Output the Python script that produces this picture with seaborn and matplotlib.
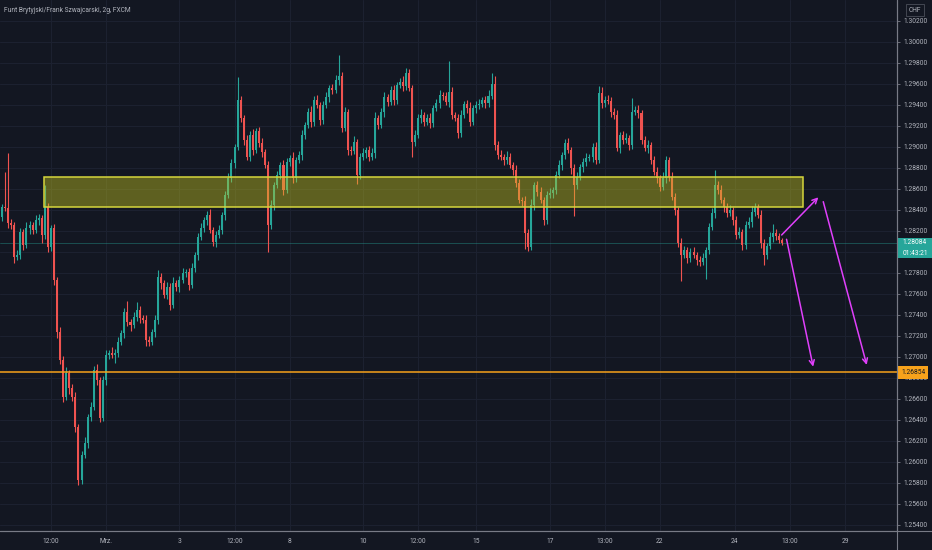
import numpy as np
import matplotlib
matplotlib.use("Agg")
import matplotlib.pyplot as plt
import matplotlib.transforms as mtransforms
from matplotlib.patches import Rectangle
from matplotlib.lines import Line2D
import seaborn as sns

# 2h candles, GBP/CHF (closes, open = previous close)
first_open = 1.28330
closes = [
    1.28427, 1.28418, 1.28274, 1.28255, 1.27949, 1.27968, 1.28190, 1.28068,
    1.28227, 1.28255, 1.28208, 1.28302, 1.28320, 1.28161, 1.28427, 1.28046,
    1.28227, 1.27730, 1.27236, 1.26968, 1.26618, 1.26847, 1.26706, 1.26618,
    1.26334, 1.25828, 1.26065, 1.26180, 1.26428, 1.26524, 1.26875, 1.26781,
    1.26418, 1.26781, 1.27018, 1.27037, 1.27018, 1.27037, 1.27143, 1.27227,
    1.27427, 1.27330, 1.27302, 1.27381, 1.27446, 1.27371, 1.27353, 1.27162,
    1.27143, 1.27236, 1.27353, 1.27762, 1.27702, 1.27590, 1.27665, 1.27493,
    1.27702, 1.27665, 1.27730, 1.27800, 1.27809, 1.27683, 1.27847, 1.27968,
    1.28143, 1.28227, 1.28302, 1.28348, 1.28208, 1.28096, 1.28161, 1.28208,
    1.28348, 1.28540, 1.28702, 1.28846, 1.28999, 1.29445, 1.29274, 1.29065,
    1.28902, 1.29111, 1.28971, 1.29149, 1.29034, 1.28949, 1.28828, 1.28255,
    1.28446, 1.28636, 1.28730, 1.28828, 1.28590, 1.28856, 1.28893, 1.28702,
    1.28874, 1.28921, 1.29111, 1.29208, 1.29330, 1.29236, 1.29445, 1.29398,
    1.29255, 1.29398, 1.29473, 1.29557, 1.29539, 1.29635, 1.29673, 1.29180,
    1.29330, 1.28971, 1.28963, 1.29046, 1.28730, 1.28902, 1.28940, 1.28971,
    1.28902, 1.28940, 1.29274, 1.29208, 1.29330, 1.29473, 1.29426, 1.29539,
    1.29445, 1.29588, 1.29616, 1.29579, 1.29701, 1.29557, 1.29046, 1.29111,
    1.29274, 1.29302, 1.29236, 1.29274, 1.29227, 1.29367, 1.29417, 1.29492,
    1.29483, 1.29426, 1.29520, 1.29302, 1.29274, 1.29130, 1.29302, 1.29408,
    1.29367, 1.29236, 1.29367, 1.29398, 1.29408, 1.29445, 1.29417, 1.29483,
    1.29598, 1.29018, 1.28921, 1.28902, 1.28874, 1.28902, 1.28828, 1.28777,
    1.28655, 1.28493, 1.28483, 1.28180, 1.28046, 1.28446, 1.28636, 1.28568,
    1.28493, 1.28302, 1.28540, 1.28558, 1.28587, 1.28730, 1.28828, 1.28921,
    1.29034, 1.28971, 1.28795, 1.28636, 1.28711, 1.28805, 1.28856, 1.28893,
    1.28902, 1.28999, 1.28874, 1.29511, 1.29417, 1.29445, 1.29439, 1.29330,
    1.29302, 1.28990, 1.29111, 1.29065, 1.29083, 1.29018, 1.29330, 1.29349,
    1.29321, 1.29065, 1.28990, 1.29018, 1.28874, 1.28758, 1.28702, 1.28618,
    1.28702, 1.28874, 1.28711, 1.28521, 1.28399, 1.28083, 1.27968, 1.28018,
    1.27940, 1.27996, 1.27968, 1.27921, 1.27903, 1.27940, 1.28018, 1.28236,
    1.28367, 1.28636, 1.28587, 1.28493, 1.28427, 1.28367, 1.28399, 1.28302,
    1.28161, 1.28190, 1.28065, 1.28255, 1.28283, 1.28380, 1.28427, 1.28348,
    1.28083, 1.27968, 1.28055, 1.28143, 1.28180, 1.28152, 1.28110, 1.28084,
]

# wick lengths in pips above / below the body
wick_up = [
    3, 33, 52, 4, 3, 5, 4, 3, 6, 4, 3, 5, 4, 3, 21, 4,
    3, 4, 3, 5, 4, 6, 3, 4, 5, 3, 4, 6, 3, 5, 4, 6,
    3, 4, 5, 3, 6, 4, 5, 3, 4, 10, 3, 5, 8, 4, 3, 5,
    4, 3, 5, 6, 4, 3, 5, 4, 6, 3, 4, 5, 3, 4, 5, 3,
    4, 5, 3, 4, 6, 3, 4, 5, 3, 4, 5, 4, 3, 22, 4, 3,
    5, 4, 6, 3, 4, 5, 3, 4, 5, 3, 4, 3, 5, 4, 3, 6,
    3, 4, 5, 3, 4, 6, 4, 5, 3, 4, 5, 3, 4, 5, 20, 4,
    5, 3, 4, 6, 3, 4, 5, 3, 4, 5, 6, 3, 4, 5, 3, 4,
    5, 3, 4, 6, 5, 4, 3, 5, 4, 6, 3, 4, 5, 3, 4, 5,
    3, 4, 30, 5, 3, 4, 5, 3, 4, 6, 3, 4, 5, 3, 4, 6,
    10, 8, 4, 5, 3, 6, 4, 3, 5, 4, 3, 5, 4, 6, 3, 4,
    5, 3, 4, 5, 3, 4, 5, 3, 4, 5, 3, 4, 5, 3, 4, 5,
    3, 4, 5, 7, 6, 4, 5, 3, 4, 5, 3, 4, 5, 3, 13, 4,
    5, 3, 4, 5, 3, 4, 5, 3, 6, 4, 3, 5, 4, 3, 5, 4,
    3, 4, 5, 3, 4, 5, 3, 4, 5, 14, 4, 5, 3, 4, 5, 3,
    4, 5, 3, 4, 5, 6, 4, 3, 5, 4, 3, 5, 8, 4, 3, 2,
]
wick_dn = [
    4, 3, 5, 4, 6, 3, 4, 5, 3, 6, 4, 3, 5, 8, 4, 5,
    4, 5, 6, 4, 5, 3, 6, 4, 5, 5, 4, 3, 5, 4, 3, 5,
    4, 3, 5, 4, 3, 8, 4, 3, 5, 4, 6, 3, 4, 5, 3, 6,
    4, 3, 5, 4, 6, 3, 4, 5, 3, 4, 5, 3, 4, 5, 3, 4,
    5, 3, 4, 5, 3, 4, 5, 3, 4, 5, 3, 4, 5, 3, 4, 5,
    3, 4, 5, 3, 4, 5, 3, 26, 4, 5, 3, 4, 5, 3, 4, 5,
    4, 3, 5, 4, 3, 5, 4, 3, 5, 4, 3, 5, 4, 3, 5, 4,
    3, 5, 4, 3, 8, 4, 3, 5, 4, 3, 5, 4, 3, 5, 4, 3,
    5, 4, 3, 5, 4, 3, 14, 4, 3, 5, 4, 3, 5, 4, 3, 5,
    4, 3, 5, 4, 3, 5, 4, 3, 5, 4, 3, 5, 4, 3, 5, 4,
    3, 5, 4, 3, 5, 4, 3, 5, 4, 3, 5, 15, 4, 3, 5, 4,
    3, 5, 4, 3, 5, 4, 3, 5, 4, 3, 5, 30, 4, 3, 5, 4,
    3, 5, 4, 3, 5, 4, 3, 5, 4, 3, 5, 4, 3, 5, 4, 3,
    5, 4, 3, 5, 4, 3, 5, 4, 3, 5, 4, 3, 5, 4, 25, 3,
    5, 4, 3, 5, 4, 3, 20, 4, 3, 5, 4, 3, 5, 4, 3, 5,
    4, 3, 5, 4, 3, 5, 4, 3, 5, 9, 4, 3, 5, 4, 3, 2,
]

# time axis labels at bar positions
tick_bars = [16, 34, 58, 76, 94, 118, 136, 155, 179, 197, 215, 239.5, 257.5, 275.5]
tick_labels = ["12:00", "Mrz.", "3", "12:00", "8", "10", "12:00", "15", "17",
               "13:00", "22", "24", "13:00", "29"]
price_ticks = [1.254 + 0.002 * k for k in range(25)]

# drawings on the chart
zone_bars = (13.7, 261.8)
zone_prices = (1.28429, 1.28715)
target_price = 1.26854
last_price = 1.28084
last_timer = "01:43:21"
arrows = [((254.8, 1.28160), (266.8, 1.28519)),
          ((268.4, 1.28477), (282.6, 1.26923)),
          ((256.4, 1.28119), (265.1, 1.26906))]

bg = "#131722"
up_col = "#26a69a"
dn_col = "#ef5350"
txt_col = "#b2b5be"
axis_col = "#787b86"

sns.set_theme(style="dark", rc={"axes.facecolor": bg, "figure.facecolor": bg})
plt.rcParams["font.family"] = ["Roboto", "DejaVu Sans"]

c = np.array(closes)
o = np.concatenate([[first_open], c[:-1]])
hi = np.maximum(o, c) + np.array(wick_up) * 0.0001
lo = np.minimum(o, c) - np.array(wick_dn) * 0.0001
x = np.arange(len(c))
cols = [up_col if cc >= oo else dn_col for oo, cc in zip(o, c)]

fig = plt.figure(figsize=(9.32, 5.5), dpi=100)
ax = fig.add_axes([0, 19 / 550, 897 / 932, 531 / 550])

ax.vlines(x, lo, hi, colors=cols, lw=0.8, zorder=2)
body = np.where(np.abs(c - o) < 0.00004, 0.00004, c - o)
ax.bar(x, body, bottom=o, width=0.66, color=cols, linewidth=0, zorder=2)

# support / resistance zone
ax.add_patch(Rectangle((zone_bars[0], zone_prices[0]), zone_bars[1] - zone_bars[0],
                       zone_prices[1] - zone_prices[0], facecolor=(0.78, 0.78, 0.12, 0.42),
                       edgecolor="#d6d63c", lw=1.1, zorder=3))

ax.axhline(target_price, color="#f7a21b", lw=1.1, zorder=4)
ax.axhline(last_price, color=up_col, lw=0.6, alpha=0.45, zorder=1)

for start, end in arrows:
    ax.annotate("", xy=end, xytext=start,
                arrowprops=dict(arrowstyle="->", color="#e040fb", lw=1.1,
                                shrinkA=0, shrinkB=0, mutation_scale=9), zorder=5)

ax.set_xlim(-0.65, 292.5)
ax.set_ylim(1.25342, 1.30397)
ax.set_xticks(tick_bars)
ax.set_xticklabels(tick_labels)
ax.set_yticks(price_ticks)
ax.set_yticklabels([f"{p:.5f}" for p in price_ticks])
ax.yaxis.tick_right()
ax.tick_params(axis="both", labelsize=4.8, colors=axis_col, labelcolor=txt_col,
               length=2.5, width=0.6, pad=2.5)
ax.grid(True, color="#1c2130", lw=0.8)
for side in ["left", "top"]:
    ax.spines[side].set_visible(False)
for side in ["right", "bottom"]:
    ax.spines[side].set_color(axis_col)
    ax.spines[side].set_linewidth(0.8)

# price labels on the right scale
blend = mtransforms.blended_transform_factory(ax.transAxes, ax.transData)
ax.text(1.0045, target_price, f"{target_price:.5f}", transform=blend, fontsize=4.8,
        color="#131722", va="center", ha="left", zorder=6, clip_on=False,
        bbox=dict(boxstyle="square,pad=0.45", fc="#f7a21b", ec="none"))
# green last-price box holding price and countdown
ax.add_patch(Rectangle((1.0005, last_price - 0.00142), 0.0385, 0.00190, transform=blend,
                       facecolor=up_col, edgecolor="none", zorder=6, clip_on=False))
ax.text(1.0065, last_price, f"{last_price:.5f}", transform=blend, fontsize=4.8,
        color="white", va="center", ha="left", zorder=7, clip_on=False)
ax.text(1.0065, last_price - 0.00098, last_timer, transform=blend, fontsize=4.8,
        color="white", va="center", ha="left", zorder=7, clip_on=False)

fig.text(915 / 932, 1 - 10 / 550, "CHF", fontsize=4.8, color=txt_col, ha="center",
         va="center", bbox=dict(boxstyle="square,pad=0.35", fc="none", ec="#4a4e59", lw=0.6))
fig.text(4 / 932, 1 - 10 / 550, "Funt Brytyjski/Frank Szwajcarski, 2g, FXCM",
         fontsize=4.8, color=txt_col, ha="left", va="center")

fig.add_artist(Line2D([897 / 932, 897 / 932], [0, 1], color=axis_col, lw=0.8))
fig.add_artist(Line2D([0, 1], [19 / 550, 19 / 550], color=axis_col, lw=0.8))

fig.savefig("out.png", dpi=100, facecolor=bg)
